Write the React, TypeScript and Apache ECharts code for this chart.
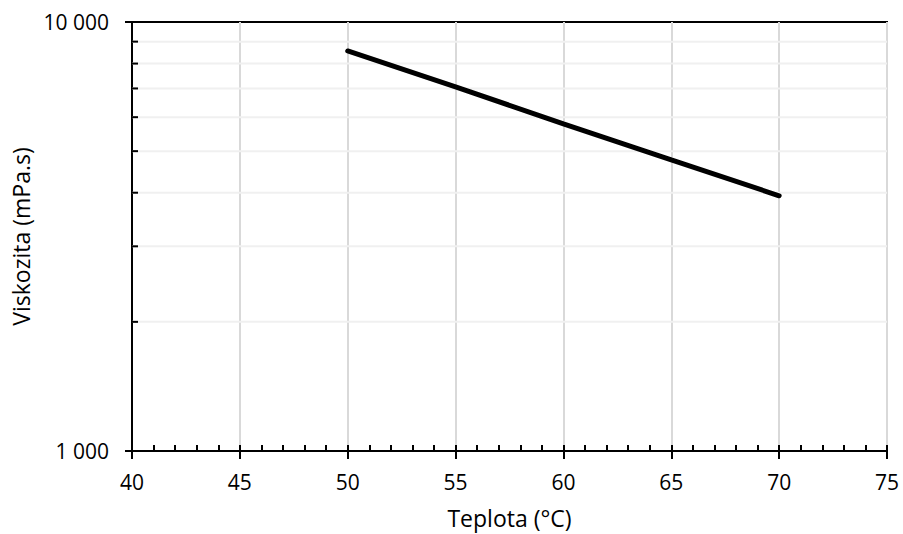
import React, { useEffect, useRef } from "react";
import * as echarts from "echarts";

const temperatures = [50, 55, 60, 65, 70];
const viscosity = [8560, 7060, 5790, 4770, 3935];
const minorYValues = [2000, 3000, 4000, 5000, 6000, 7000, 8000, 9000];
const xMin = 40;
const xMax = 75;
const xStep = 5;
const yMin = 1000;
const yMax = 10000;

const FONT = "'Open Sans', sans-serif";

function fmtThousands(v: number): string {
  return String(Math.round(v)).replace(/\B(?=(\d{3})+(?!\d))/g, " ");
}

export default function App() {
  const ref = useRef<HTMLDivElement>(null);
  useEffect(() => {
    if (!ref.current) return;
    const chart = echarts.init(ref.current, null, { renderer: "svg" });
    const gridRect = { left: 132, right: 16, top: 22, bottom: 82 };
    chart.setOption({
      animation: false,
      backgroundColor: "#ffffff",
      textStyle: { fontFamily: FONT },
      grid: [
        { ...gridRect, show: true, borderColor: "#000", borderWidth: 2, backgroundColor: "transparent" },
        { ...gridRect, show: false },
      ],
      xAxis: [
        {
          type: "value",
          gridIndex: 0,
          min: xMin,
          max: xMax,
          interval: xStep,
          name: "Teplota (°C)",
          nameLocation: "middle",
          nameGap: 55,
          nameTextStyle: { color: "#000", fontSize: 23, fontFamily: FONT },
          axisLine: { show: true, lineStyle: { color: "#000", width: 2 } },
          axisTick: { show: true, inside: true, length: 6, lineStyle: { color: "#000", width: 2 } },
          minorTick: { show: true, splitNumber: 5, length: 6, lineStyle: { color: "#000", width: 2 } },
          axisLabel: { color: "#000", fontSize: 21, margin: 20, fontFamily: FONT },
          splitLine: { show: true, lineStyle: { color: "#d9d9d9", width: 2 } },
          minorSplitLine: { show: false },
        },
        {
          type: "value",
          gridIndex: 1,
          min: xMin,
          max: xMax,
          interval: xStep,
          axisLine: { show: false },
          axisTick: { show: true, inside: false, length: 7, lineStyle: { color: "#000", width: 2 } },
          axisLabel: { show: false },
          splitLine: { show: false },
        },
      ],
      yAxis: [
        {
          type: "log",
          logBase: 10,
          gridIndex: 0,
          min: yMin,
          max: yMax,
          name: "Viskozita (mPa.s)",
          nameLocation: "middle",
          nameGap: 98,
          nameTextStyle: { color: "#000", fontSize: 23, fontFamily: FONT },
          axisLine: { show: true, lineStyle: { color: "#000", width: 2 } },
          axisTick: { show: true, inside: false, length: 7, lineStyle: { color: "#000", width: 2 } },
          axisLabel: {
            color: "#000",
            fontSize: 21,
            margin: 23,
            fontFamily: FONT,
            formatter: (v: number) => fmtThousands(v),
          },
          splitLine: { show: false },
        },
        {
          type: "log",
          logBase: 10,
          gridIndex: 1,
          min: yMin,
          max: yMax,
          show: false,
        },
      ],
      series: [
        {
          type: "custom",
          xAxisIndex: 0,
          yAxisIndex: 0,
          z: 1,
          silent: true,
          data: minorYValues.map((v) => [xMin, v]),
          renderItem: (params: any, api: any) => {
            const v = api.value(1);
            const l = api.coord([xMin, v]);
            const r = api.coord([xMax, v]);
            return {
              type: "group",
              children: [
                {
                  type: "line",
                  shape: { x1: l[0], y1: l[1], x2: r[0], y2: r[1] },
                  style: { stroke: "#f0f0f0", lineWidth: 2 },
                },
                {
                  type: "line",
                  shape: { x1: l[0], y1: l[1], x2: l[0] + 6, y2: l[1] },
                  style: { stroke: "#000", lineWidth: 2 },
                },
              ],
            };
          },
        },
        {
          type: "line",
          xAxisIndex: 0,
          yAxisIndex: 0,
          z: 3,
          data: temperatures.map((t, i) => [t, viscosity[i]]),
          showSymbol: false,
          symbol: "none",
          lineStyle: { color: "#000", width: 5, cap: "round" },
        },
      ],
    });
    return () => chart.dispose();
  }, []);
  return (
    <div
      ref={ref}
      style={{ position: "fixed", left: 0, top: 0, width: 903, height: 534 }}
    />
  );
}
